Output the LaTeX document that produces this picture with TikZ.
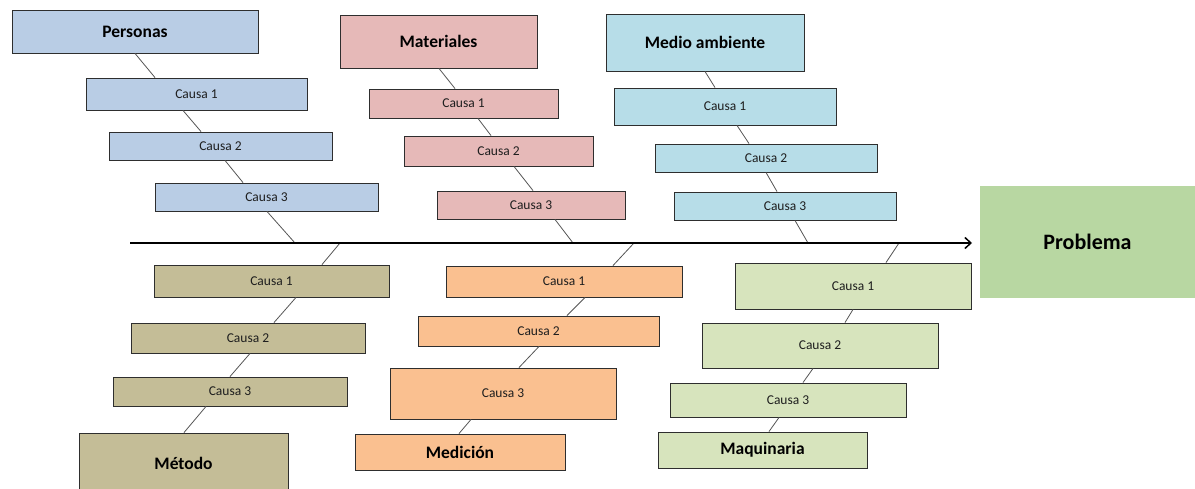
\documentclass[tikz,border=0pt]{standalone}
\usepackage{fontspec}
\setmainfont{Carlito}
\usetikzlibrary{arrows.meta}

\definecolor{persfill}{HTML}{B9CDE5}
\definecolor{matfill}{HTML}{E6B9B8}
\definecolor{envfill}{HTML}{B7DDE8}
\definecolor{metfill}{HTML}{C4BD97}
\definecolor{medfill}{HTML}{FAC090}
\definecolor{maqfill}{HTML}{D7E4BD}
\definecolor{probfill}{HTML}{B8D7A2}
\definecolor{boxline}{HTML}{2E2E2E}
\definecolor{boneline}{HTML}{555555}
\definecolor{causetext}{HTML}{1E1E1E}

\begin{document}
\begin{tikzpicture}[x=1pt,y=-1pt,
  box/.style={draw=boxline, line width=0.9pt, inner sep=0pt,
    font=\fontsize{13.5}{16}\selectfont, text=causetext},
  head/.style={box, font=\fontsize{17.5}{20}\selectfont\bfseries, text=black},
  bone/.style={draw=boneline, line width=0.8pt},
  spine/.style={draw=black, line width=1.5pt, -{Straight Barb[length=6pt,width=11pt]}},
]
\useasboundingbox (0,0) rectangle (1195,488);
\clip (0,0) rectangle (1195,488);

% spine and its junction points
\coordinate (tail) at (130,243);
\coordinate (tip) at (972,243);
\coordinate (jp) at (295,243);
\coordinate (jm) at (573,243);
\coordinate (je) at (808,243);
\coordinate (jt) at (340,243);
\coordinate (jd) at (634,243);
\coordinate (jq) at (899,243);

% Personas
\node[head, fill=persfill, minimum width=246pt, minimum height=43pt] (pers) at (135,31.5) {Personas};
\node[box, fill=persfill, minimum width=221pt, minimum height=32pt] (pc1) at (196.5,94) {Causa 1};
\node[box, fill=persfill, minimum width=223pt, minimum height=28pt] (pc2) at (220.5,146) {Causa 2};
\node[box, fill=persfill, minimum width=223pt, minimum height=28pt] (pc3) at (266.5,197) {Causa 3};

% Materiales
\node[head, fill=matfill, minimum width=197pt, minimum height=53pt] (mat) at (438.5,41.5) {Materiales};
\node[box, fill=matfill, minimum width=189pt, minimum height=29pt] (mc1) at (463.5,103.5) {Causa 1};
\node[box, fill=matfill, minimum width=189pt, minimum height=30pt] (mc2) at (498.5,151) {Causa 2};
\node[box, fill=matfill, minimum width=188pt, minimum height=28pt] (mc3) at (531,205) {Causa 3};

% Medio ambiente
\node[head, fill=envfill, minimum width=198pt, minimum height=57pt] (env) at (705,42.5) {Medio ambiente};
\node[box, fill=envfill, minimum width=222pt, minimum height=37pt] (ec1) at (725,106.5) {Causa 1};
\node[box, fill=envfill, minimum width=222pt, minimum height=28pt] (ec2) at (766,158) {Causa 2};
\node[box, fill=envfill, minimum width=222pt, minimum height=28pt] (ec3) at (785,206) {Causa 3};

% Método
\node[box, fill=metfill, minimum width=235pt, minimum height=32pt] (tc1) at (271.5,281) {Causa 1};
\node[box, fill=metfill, minimum width=234pt, minimum height=30pt] (tc2) at (248,338) {Causa 2};
\node[box, fill=metfill, minimum width=234pt, minimum height=29pt] (tc3) at (230,391.5) {Causa 3};
\node[head, fill=metfill, minimum width=209pt, minimum height=60pt] (met) at (183.5,463) {Método};

% Medición
\node[box, fill=medfill, minimum width=236pt, minimum height=31pt] (dc1) at (564,281.5) {Causa 1};
\node[box, fill=medfill, minimum width=241pt, minimum height=30pt] (dc2) at (538.5,331) {Causa 2};
\node[box, fill=medfill, minimum width=226pt, minimum height=51pt] (dc3) at (503,393.5) {Causa 3};
\node[head, fill=medfill, minimum width=210pt, minimum height=36pt] (med) at (460,452) {Medición};

% Maquinaria
\node[box, fill=maqfill, minimum width=236pt, minimum height=46pt] (qc1) at (853,286) {Causa 1};
\node[box, fill=maqfill, minimum width=236pt, minimum height=45pt] (qc2) at (820,345.5) {Causa 2};
\node[box, fill=maqfill, minimum width=236pt, minimum height=34pt] (qc3) at (788,400) {Causa 3};
\node[head, fill=maqfill, minimum width=209pt, minimum height=36pt] (maq) at (762.5,450) {Maquinaria};

% effect
\node[fill=probfill, inner sep=0pt, minimum width=215pt, minimum height=112pt,
  font=\fontsize{22}{26}\selectfont\bfseries] (prob) at (1087.5,242) {Problema};

% bones: Personas
\draw[bone] (pers.south) -- ([xshift=-41.5pt]pc1.north);
\draw[bone] ([xshift=-13.5pt]pc1.south) -- ([xshift=-19.5pt]pc2.north);
\draw[bone] ([xshift=4.5pt]pc2.south) -- ([xshift=-23.5pt]pc3.north);
\draw[bone] ([xshift=0.5pt]pc3.south) -- (jp);

% bones: Materiales
\draw[bone] ([xshift=0.5pt]mat.south) -- ([xshift=-8.5pt]mc1.north);
\draw[bone] ([xshift=14.5pt]mc1.south) -- ([xshift=-7.5pt]mc2.north);
\draw[bone] ([xshift=15.5pt]mc2.south) -- ([xshift=2pt]mc3.north);
\draw[bone] ([xshift=24pt]mc3.south) -- (jm);

% bones: Medio ambiente
\draw[bone] (env.south) -- ([xshift=-10pt]ec1.north);
\draw[bone] ([xshift=12pt]ec1.south) -- ([xshift=-17pt]ec2.north);
\draw[bone] (ec2.south) -- ([xshift=-8pt]ec3.north);
\draw[bone] ([xshift=10pt]ec3.south) -- (je);

% bones: Método
\draw[bone] (jt) -- ([xshift=50.5pt]tc1.north);
\draw[bone] ([xshift=24.5pt]tc1.south) -- ([xshift=26pt]tc2.north);
\draw[bone] ([xshift=2pt]tc2.south) -- (tc3.north);
\draw[bone] ([xshift=-24pt]tc3.south) -- ([xshift=0.5pt]met.north);

% bones: Medición
\draw[bone] (jd) -- ([xshift=49pt]dc1.north);
\draw[bone] ([xshift=21pt]dc1.south) -- ([xshift=28.5pt]dc2.north);
\draw[bone] ([xshift=0.5pt]dc2.south) -- ([xshift=16pt]dc3.north);
\draw[bone] ([xshift=-32pt]dc3.south) -- ([xshift=-1pt]med.north);

% bones: Maquinaria
\draw[bone] (jq) -- ([xshift=33pt]qc1.north);
\draw[bone] (qc1.south) -- ([xshift=25pt]qc2.north);
\draw[bone] ([xshift=-7pt]qc2.south) -- ([xshift=15pt]qc3.north);
\draw[bone] ([xshift=-9pt]qc3.south) -- ([xshift=6.5pt]maq.north);

% main spine
\draw[spine] (tail) -- (tip);
\end{tikzpicture}
\end{document}
